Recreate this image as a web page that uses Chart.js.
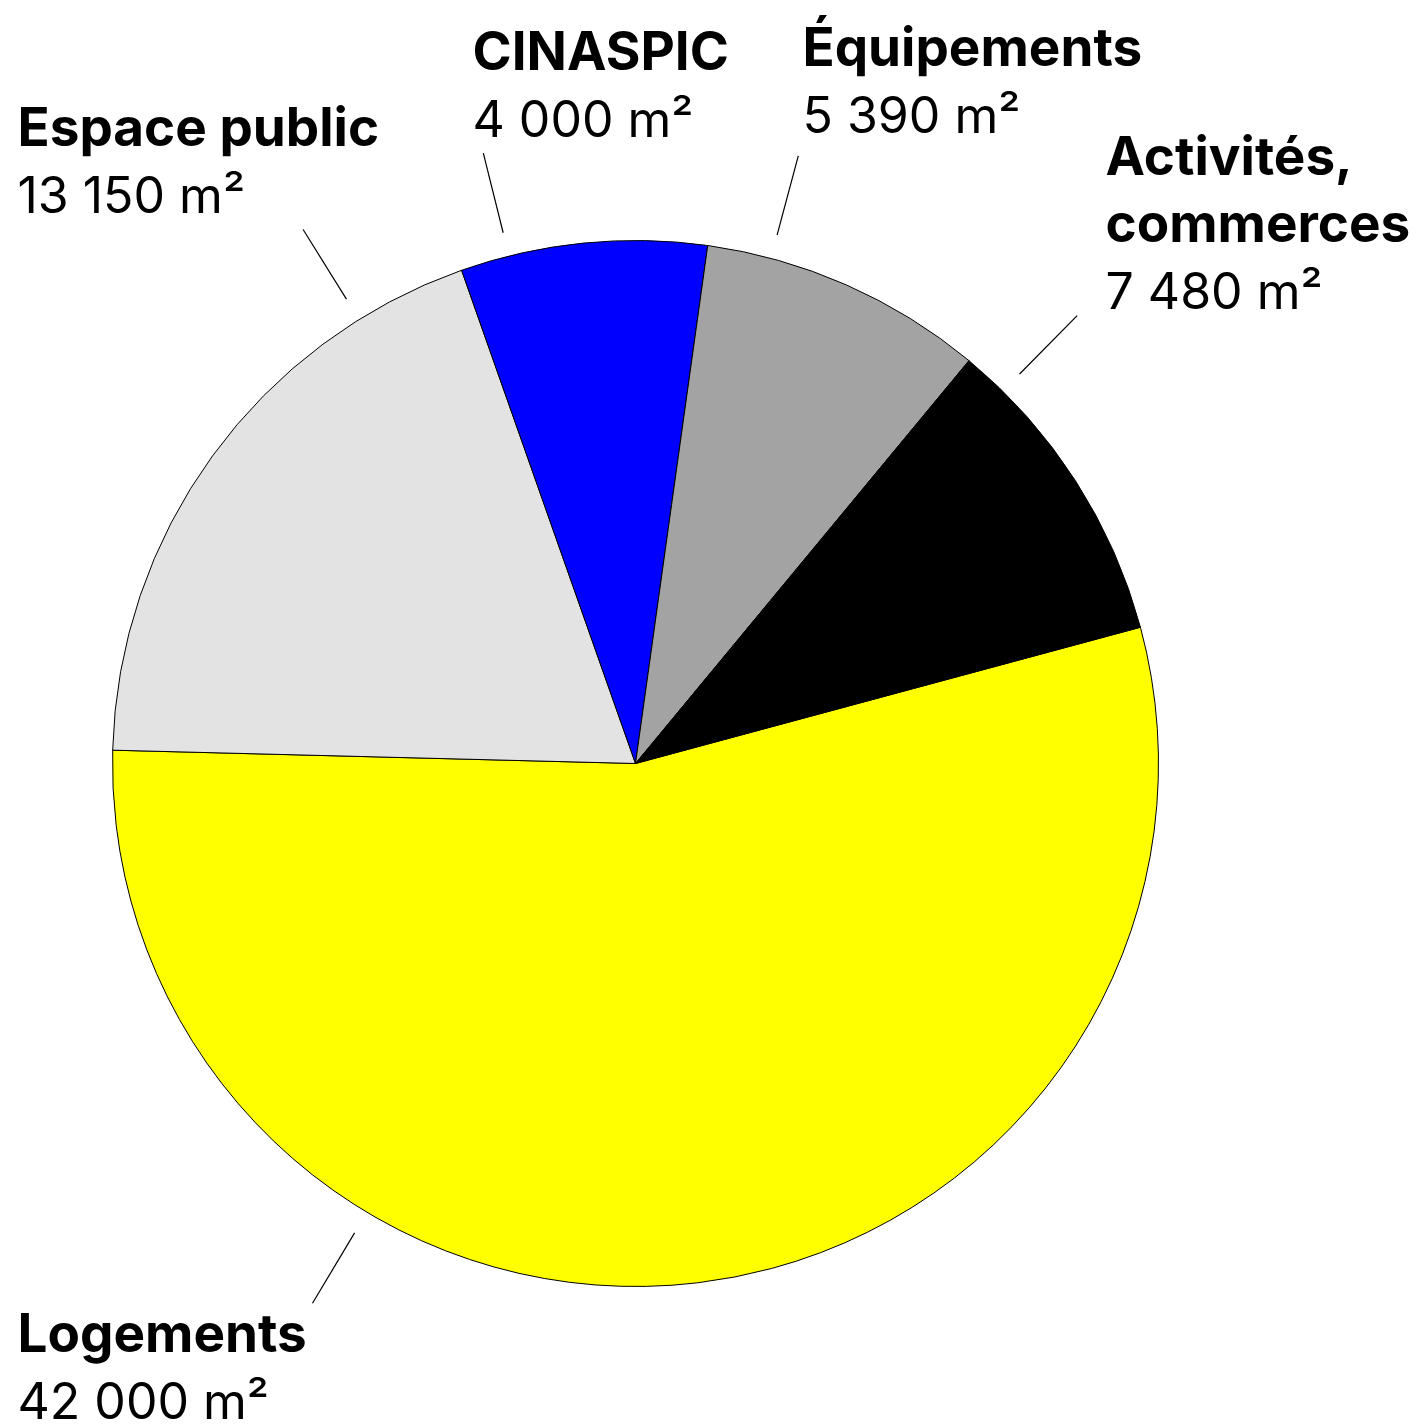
<!DOCTYPE html>
<html lang="fr">
<head>
<meta charset="utf-8">
<title>Surfaces</title>
<script src="https://cdn.jsdelivr.net/npm/chart.js@4/dist/chart.umd.min.js"></script>
<style>
  html, body { margin: 0; padding: 0; background: #fff; }
  canvas { display: block; }
</style>
</head>
<body>
<canvas id="pie" width="1424" height="1424"></canvas>
<script>
const categories = [['Logements'], ['Espace public'], ['CINASPIC'], ['Équipements'], ['Activités,', 'commerces']];
// surfaces written in the labels (m²)
const areas = [42000, 13150, 4000, 5390, 7480];
// share of the circle each slice takes in the drawing (%) - not quite proportional to the areas
const sliceShares = [54.6, 19.2, 7.6, 8.8, 9.8];
const sliceColors = ['#ffff00', '#e3e3e3', '#0000ff', '#a3a3a3', '#000000'];

// leader line angle (deg, clockwise from top) and text start (left x, first baseline) relative to the pie centre
const labelLayout = [
  { angle: 210.9, x: -618, y: 588 },
  { angle: 328.1, x: -618, y: -618 },
  { angle: 346.0, x: -163, y: -694 },
  { angle: 15.0, x: 167, y: -698 },
  { angle: 44.6, x: 470, y: -589 },
];

const BOLD = '700 53px Inter';
const REGULAR = '400 50px Inter';
const LINE_H = 67;

const formatArea = (v) => `${String(v).replace(/\B(?=(\d{3})+(?!\d))/g, ' ')} m²`;

const labelPlugin = {
  id: 'sliceLabels',
  afterDraw(chart) {
    const { ctx } = chart;
    const arc = chart.getDatasetMeta(0).data[0];
    const { x: cx, y: cy, outerRadius: r } = arc.getProps(['x', 'y', 'outerRadius'], true);

    ctx.save();
    ctx.strokeStyle = '#000';
    ctx.fillStyle = '#000';
    ctx.lineWidth = 1.2;
    ctx.textAlign = 'left';
    ctx.textBaseline = 'alphabetic';

    labelLayout.forEach((pos, i) => {
      const a = ((pos.angle - 90) * Math.PI) / 180;
      ctx.beginPath();
      ctx.moveTo(cx + Math.cos(a) * (r + 24), cy + Math.sin(a) * (r + 24));
      ctx.lineTo(cx + Math.cos(a) * (r + 106), cy + Math.sin(a) * (r + 106));
      ctx.stroke();

      let y = cy + pos.y;
      ctx.font = BOLD;
      chart.data.labels[i].forEach((line) => {
        ctx.fillText(line, cx + pos.x, y);
        y += LINE_H;
      });
      ctx.font = REGULAR;
      ctx.fillText(formatArea(areas[i]), cx + pos.x, y);
    });
    ctx.restore();
  },
};

const config = {
  type: 'pie',
  data: {
    labels: categories,
    datasets: [
      {
        data: sliceShares,
        backgroundColor: sliceColors,
        borderColor: '#000',
        borderWidth: 1,
      },
    ],
  },
  options: {
    responsive: false,
    animation: false,
    events: [],
    rotation: 74.9,
    layout: {
      padding: { left: 112, right: 265, top: 240, bottom: 137 },
    },
    plugins: {
      legend: { display: false },
      tooltip: { enabled: false },
    },
  },
  plugins: [labelPlugin],
};

const chart = new Chart(document.getElementById('pie'), config);
</script>
</body>
</html>
